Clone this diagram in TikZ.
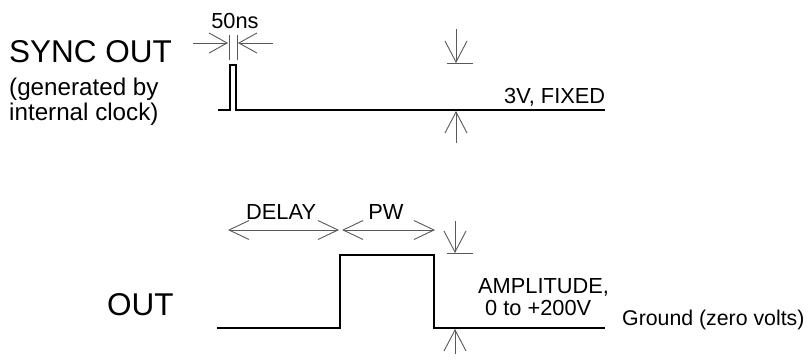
\documentclass[tikz,border=0pt]{standalone}
\usepackage{fontspec}
\setmainfont{Liberation Sans}
\usetikzlibrary{arrows.meta}
\begin{document}
\begin{tikzpicture}[x=1pt,y=-1pt,
  wave/.style={draw=black, line width=2.7pt, line join=miter},
  dimline/.style={draw=black!65, line width=0.9pt},
  bigtip/.style={-{Straight Barb[length=21pt,width=22pt,line width=0.9pt]}},
  smalltip/.style={-{Straight Barb[length=18pt,width=20pt,line width=0.9pt]}},
  dbltip/.style={{Straight Barb[length=20pt,width=19pt,line width=0.9pt]}-{Straight Barb[length=20pt,width=19pt,line width=0.9pt]}},
  lbl/.style={inner sep=0pt, anchor=base west, font=\fontsize{21.8}{25}\selectfont},
  gndlbl/.style={inner sep=0pt, anchor=base west, font=\fontsize{21.3}{25}\selectfont},
  biglbl/.style={inner sep=0pt, anchor=base west, font=\fontsize{31.5}{36}\selectfont},
  midlbl/.style={inner sep=0pt, anchor=base west, font=\fontsize{24.2}{25}\selectfont}
]
\useasboundingbox (0,0) rectangle (808,360);

% ---------- labels ----------
\node[biglbl] (syncout) at (9,62) {SYNC OUT};
\node[midlbl] (gen) at (9,95) {(generated by};
\node[midlbl] (clk) at (9,120) {internal clock)};
\node[biglbl] (out) at (107,315) {OUT};
\node[lbl, anchor=base] (ns) at (235,28) {50ns};
\node[lbl] (fixed) at (504,103) {3V, FIXED};
\node[lbl] (delay) at (246,219) {DELAY};
\node[lbl, anchor=base] (pw) at (386,219) {PW};
\node[lbl] (amp) at (478,293) {AMPLITUDE,};
\node[lbl] (amp2) at (485,315) {0 to +200V};
\node[gndlbl] (gnd) at (622,325) {Ground (zero volts)};

% ---------- SYNC OUT waveform ----------
\coordinate (s0) at (218,110);
\coordinate (s1) at (230,110);
\coordinate (s2) at (230,65);
\coordinate (s3) at (236,65);
\coordinate (s4) at (236,110);
\coordinate (s5) at (605,110);
\draw[wave] (s0) -- (s1) -- (s2) -- (s3) -- (s4) -- (s5);

% 50ns dimension
\coordinate (e1t) at (229,35); \coordinate (e1b) at (229,60);
\coordinate (e2t) at (237,35); \coordinate (e2b) at (237,60);
\draw[dimline] (e1t) -- (e1b);
\draw[dimline] (e2t) -- (e2b);
\coordinate (nsL) at (193,43); \coordinate (nsLt) at (228,43);
\coordinate (nsR) at (273,43); \coordinate (nsRt) at (238,43);
\draw[dimline, smalltip] (nsL) -- (nsLt);
\draw[dimline, smalltip] (nsR) -- (nsRt);

% 3V amplitude dimension
\coordinate (a1s) at (456,29); \coordinate (a1e) at (456,63);
\coordinate (t1l) at (447,63); \coordinate (t1r) at (473,63);
\draw[dimline, bigtip] (a1s) -- (a1e);
\draw[dimline] (t1l) -- (t1r);
\coordinate (a2s) at (456,143); \coordinate (a2e) at (456,111);
\draw[dimline, bigtip] (a2s) -- (a2e);

% ---------- OUT waveform ----------
\coordinate (o0) at (217,328);
\coordinate (o1) at (340,328);
\coordinate (o2) at (340,255);
\coordinate (o3) at (434,255);
\coordinate (o4) at (434,328);
\coordinate (o5) at (605,328);
\draw[wave] (o0) -- (o1) -- (o2) -- (o3) -- (o4) -- (o5);

% DELAY and PW
\coordinate (d0) at (228,230); \coordinate (d1) at (339,230);
\coordinate (p0) at (342,230); \coordinate (p1) at (435,230);
\draw[dimline, dbltip] (d0) -- (d1);
\draw[dimline, dbltip] (p0) -- (p1);

% amplitude dimension
\coordinate (b1s) at (455,221); \coordinate (b1e) at (455,253);
\coordinate (t2l) at (447,253); \coordinate (t2r) at (473,253);
\draw[dimline, bigtip] (b1s) -- (b1e);
\draw[dimline] (t2l) -- (t2r);
\coordinate (b2s) at (455,354); \coordinate (b2e) at (455,329);
\draw[dimline, bigtip] (b2s) -- (b2e);
\end{tikzpicture}
\end{document}
